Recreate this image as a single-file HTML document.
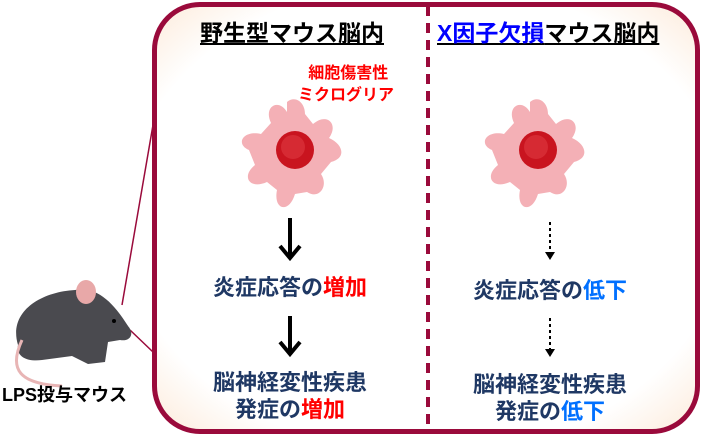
<!DOCTYPE html>
<html><head><meta charset="utf-8"><style>
body{margin:0;width:704px;height:435px;background:#fff;position:relative;overflow:hidden;font-family:"Liberation Sans","Noto Sans CJK JP",sans-serif;font-weight:bold}
.box{position:absolute;left:152px;top:2px;width:538px;height:422px;border:5px solid #9a0a3b;border-radius:48px;background:radial-gradient(ellipse 75% 75% at 50% 50%,#fff 75%,#fdf0e4 90%,#fbe0c8 100%)}
.t{position:absolute;white-space:nowrap}
.c{color:#1f3864;font-size:22px;text-align:center;line-height:27px}
.r{color:#ff0000}.b{color:#0070ff}
</style></head><body>
<div class="box"></div>
<svg width="704" height="435" style="position:absolute;left:0;top:0">
<line x1="428" y1="6" x2="428" y2="430" stroke="#9a0a3b" stroke-width="4" stroke-dasharray="10,7"/>
<line x1="122" y1="305" x2="153" y2="125" stroke="#9a0a3b" stroke-width="1.5"/>
<line x1="130" y1="330" x2="153" y2="352" stroke="#9a0a3b" stroke-width="1.5"/>
<defs><g id="cell"><path d="M-8,-48 C0,-55 10,-48 10,-36 L18,-26 C32,-38 44,-26 34,-12 C48,-6 52,8 36,12 L26,24 C34,36 24,50 12,42 L0,44 C-6,64 -22,60 -18,40 L-28,32 C-46,40 -54,26 -40,15 L-46,0 C-60,-6 -52,-20 -34,-16 L-24,-27 C-32,-44 -16,-52 -8,-38Z" fill="#f4b0b6"/><circle r="19" fill="#c9141f"/><circle r="12" cx="-2" cy="-3" fill="#d62a33"/></g></defs>
<use href="#cell" transform="translate(295,150)"/>
<use href="#cell" transform="translate(538,150)"/>
<g stroke="#000" stroke-width="4" fill="none"><line x1="290" y1="218" x2="290" y2="256"/><polyline points="280,246 290,258 300,246"/><line x1="290" y1="316" x2="290" y2="352"/><polyline points="280,342 290,354 300,342"/></g>
<g stroke="#000" stroke-width="2" fill="none" stroke-dasharray="3,3"><line x1="550" y1="222" x2="550" y2="256"/><line x1="550" y1="318" x2="550" y2="352"/></g>
<polygon points="545,252 555,252 550,260" fill="#000"/><polygon points="545,349 555,349 550,357" fill="#000"/>
<path d="M18,345 C8,312 40,292 75,290 C95,286 112,300 128,326 C135,334 130,342 120,340 L108,342 L105,362 L88,364 L72,356 L42,360 C26,362 16,356 18,345Z" fill="#4a4a4f"/>
<ellipse cx="86" cy="292" rx="10" ry="12" fill="#e8a8a8"/><circle cx="114" cy="321" r="2" fill="#000"/>
<path d="M22,340 C8,370 20,384 62,386" stroke="#e8b5b5" stroke-width="3" fill="none"/>
</svg>
<div class="t" style="left:200px;top:14px;font-size:23px;text-decoration:underline;color:#000">野生型マウス脳内</div>
<div class="t" style="left:437px;top:14px;font-size:23px;text-decoration:underline;color:#000"><span style="color:#0000ff">X因子欠損</span>マウス脳内</div>
<div class="t" style="left:298px;top:63px;font-size:16px;color:#ff0000;text-align:center;line-height:22px">&nbsp;細胞傷害性<br>ミクログリア</div>
<div class="t c" style="left:190px;top:274px;width:200px">炎症応答の<span class="r">増加</span></div>
<div class="t c" style="left:190px;top:369px;width:200px">脳神経変性疾患<br>発症の<span class="r">増加</span></div>
<div class="t c" style="left:450px;top:277px;width:200px">炎症応答の<span class="b">低下</span></div>
<div class="t c" style="left:450px;top:371px;width:200px">脳神経変性疾患<br>発症の<span class="b">低下</span></div>
<div class="t" style="left:2px;top:381px;font-size:18px;color:#000">LPS投与マウス</div>
</body></html>
